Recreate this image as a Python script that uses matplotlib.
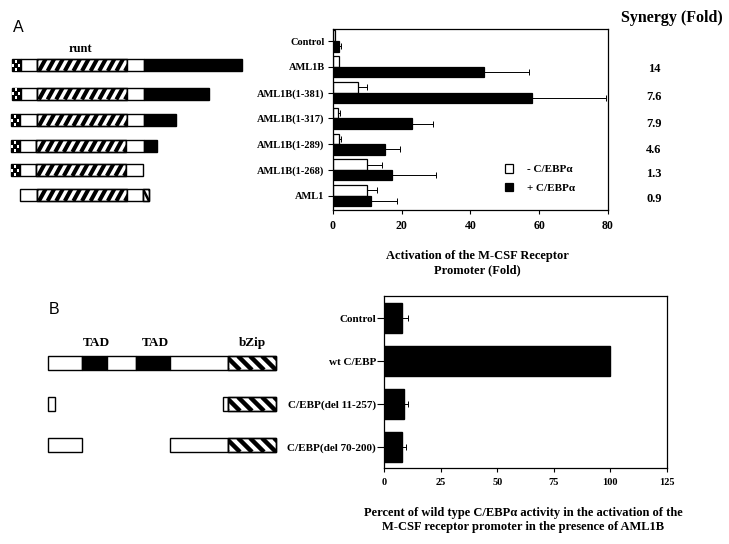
import numpy as np
import matplotlib
matplotlib.use("Agg")
import matplotlib.pyplot as plt
from matplotlib.patches import Rectangle

plt.rcParams["font.family"] = ["Liberation Serif", "DejaVu Serif"]
plt.rcParams["font.weight"] = "bold"

# ---- data: panel A ----
constructs = ["Control", "AML1B", "AML1B(1-381)", "AML1B(1-317)",
              "AML1B(1-289)", "AML1B(1-268)", "AML1"]
minus_cebp = [0.5, 1.6, 7.3, 1.4, 1.7, 9.8, 10.0]
minus_err = [0.0, 0.0, 2.6, 0.7, 0.6, 4.4, 2.8]
plus_cebp = [1.8, 44.0, 58.0, 23.0, 15.1, 17.1, 11.1]
plus_err = [0.6, 13.0, 21.3, 6.0, 4.4, 12.9, 7.6]
synergy = ["14", "7.6", "7.9", "4.6", "1.3", "0.9"]
a_xticks = [0, 20, 40, 60, 80]

# ---- data: panel B ----
cebp_constructs = ["Control", "wt C/EBP", "C/EBP(del 11-257)", "C/EBP(del 70-200)"]
pct_wt = [8.1, 100.0, 9.0, 8.1]
pct_err = [2.7, 0.0, 1.8, 1.6]
b_xticks = [0, 25, 50, 75, 100, 125]

# domain maps (x in figure pixels), one list of (start, end, kind) per row
aml_rows = [
    [(12, 21, "check"), (21, 37, "open"), (37, 127, "runt"), (127, 144, "open"), (144, 242, "solid")],
    [(12, 21, "check"), (21, 37, "open"), (37, 127, "runt"), (127, 144, "open"), (144, 209, "solid")],
    [(11, 20, "check"), (20, 37, "open"), (37, 127, "runt"), (127, 144, "open"), (144, 176, "solid")],
    [(11, 20, "check"), (20, 36, "open"), (36, 126, "runt"), (126, 144, "open"), (144, 157, "solid")],
    [(11, 20, "check"), (20, 36, "open"), (36, 126, "runt"), (126, 143, "open")],
    [(20, 37, "open"), (37, 127, "runt"), (127, 143, "open"), (143, 149, "back")],
]
aml_row_y = [65, 93.5, 120, 146, 170, 195]
cebp_rows = [
    [(48, 82, "open"), (82, 107, "solid"), (107, 136, "open"), (136, 170, "solid"),
     (170, 228, "open"), (228, 276, "bzip")],
    [(48, 55, "open"), (223, 228, "open"), (228, 276, "bzip")],
    [(48, 82, "open"), (170, 228, "open"), (228, 276, "bzip")],
]
cebp_row_y = [363, 404, 445]

W, H = 729, 544
fig = plt.figure(figsize=(W / 100, H / 100), dpi=100)

# overlay axes in pixel coordinates for the schematic drawings and free text
ov = fig.add_axes([0, 0, 1, 1])
ov.set_xlim(0, W)
ov.set_ylim(H, 0)
ov.axis("off")


def striped(x0, x1, yc, h, spacing, slant, lw, back=False):
    rect = Rectangle((x0, yc - h / 2), x1 - x0, h, fc="white", ec="black", lw=1)
    ov.add_patch(rect)
    dx = slant * h
    for s in np.arange(x0 - dx - spacing, x1 + spacing, spacing):
        if back:
            xs, ys = [s, s + dx], [yc - h / 2, yc + h / 2]
        else:
            xs, ys = [s, s + dx], [yc + h / 2, yc - h / 2]
        ln, = ov.plot(xs, ys, color="black", lw=lw, solid_capstyle="butt")
        ln.set_clip_path(rect)
    ov.add_patch(Rectangle((x0, yc - h / 2), x1 - x0, h, fc="none", ec="black", lw=1))


def draw_segment(x0, x1, yc, h, kind):
    if kind == "open":
        ov.add_patch(Rectangle((x0, yc - h / 2), x1 - x0, h, fc="white", ec="black", lw=1))
    elif kind == "solid":
        ov.add_patch(Rectangle((x0, yc - h / 2), x1 - x0, h, fc="black", ec="black", lw=1))
    elif kind == "runt":
        striped(x0, x1, yc, h, 8.6, 0.55, 2.9)
    elif kind == "back":
        striped(x0, x1, yc, h, 6, 0.5, 1.8, back=True)
    elif kind == "bzip":
        striped(x0, x1, yc, h, 12, 1.0, 3.2, back=True)
    elif kind == "check":
        ov.add_patch(Rectangle((x0, yc - h / 2), x1 - x0, h, fc="black", ec="black", lw=1))
        cw, ch = (x1 - x0) / 3, h / 3
        for i in range(3):
            for j in range(3):
                if (i + j) % 2 == 1:
                    ov.add_patch(Rectangle((x0 + i * cw + 0.5, yc - h / 2 + j * ch + 0.5),
                                           cw - 1.0, ch - 1.0, fc="white", ec="none"))


for segs, yc in zip(aml_rows, aml_row_y):
    for x0, x1, kind in segs:
        draw_segment(x0, x1, yc, 12, kind)
for segs, yc in zip(cebp_rows, cebp_row_y):
    for x0, x1, kind in segs:
        draw_segment(x0, x1, yc, 14, kind)

ov.text(18, 27, "A", family="Liberation Sans", weight="normal", fontsize=11.5, ha="center", va="center")
ov.text(54, 310, "B", family="Liberation Sans", weight="normal", fontsize=11.5, ha="center", va="center")
ov.text(80, 49, "runt", fontsize=9, ha="center", va="center")
ov.text(96, 343, "TAD", fontsize=9.5, ha="center", va="center")
ov.text(155, 343, "TAD", fontsize=9.5, ha="center", va="center")
ov.text(252, 343, "bZip", fontsize=9.5, ha="center", va="center")
ov.text(672, 18, "Synergy (Fold)", fontsize=11.5, ha="center", va="center")

# ---- panel A bar chart ----
axA = fig.add_axes([333 / W, 1 - 210 / H, 275 / W, 181 / H])
ypos = np.arange(len(constructs))
bh = 0.41
axA.barh(ypos - bh / 2, minus_cebp, height=bh, color="white", edgecolor="black", lw=0.9,
         xerr=[np.zeros(len(minus_err)), minus_err],
         error_kw=dict(ecolor="black", elinewidth=0.7, capsize=2, capthick=0.7),
         label="- C/EBP\u03b1")
axA.barh(ypos + bh / 2, plus_cebp, height=bh, color="black", edgecolor="black", lw=0.9,
         xerr=[np.zeros(len(plus_err)), plus_err],
         error_kw=dict(ecolor="black", elinewidth=0.7, capsize=2, capthick=0.7),
         label="+ C/EBP\u03b1")
axA.set_xlim(0, 80)
axA.set_ylim(6.556, -0.467)
axA.set_xticks(a_xticks)
axA.set_yticks(ypos)
axA.set_yticklabels(constructs)
axA.tick_params(axis="y", length=3.6, width=0.8, pad=2.4, labelsize=7.5)
axA.tick_params(axis="x", length=3, width=0.8, pad=4, labelsize=8.5)
for sp in axA.spines.values():
    sp.set_linewidth(0.9)
axA.legend(loc="upper left", bbox_to_anchor=(505 / W, 1 - 164 / H), bbox_transform=fig.transFigure,
           frameon=False, fontsize=8, handlelength=0.75, handleheight=0.85,
           handletextpad=1.2, labelspacing=0.75, borderpad=0, borderaxespad=0)

for val, yc in zip(synergy, aml_row_y):
    ov.text(654, yc + 4, val, fontsize=9, ha="center", va="center")

ov.text(477, 263, "Activation of the M-CSF Receptor\nPromoter (Fold)", fontsize=9,
        ha="center", va="center", linespacing=1.2)

# ---- panel B bar chart ----
axB = fig.add_axes([384 / W, 1 - 468 / H, 283 / W, 172 / H])
ypb = np.arange(len(cebp_constructs))
axB.barh(ypb, pct_wt, height=0.7, color="black", edgecolor="black",
         xerr=[np.zeros(len(pct_err)), pct_err],
         error_kw=dict(ecolor="black", elinewidth=0.7, capsize=2, capthick=0.7))
axB.set_xlim(0, 125)
axB.set_ylim(3.48, -0.52)
axB.set_xticks(b_xticks)
axB.set_yticks(ypb)
axB.set_yticklabels(cebp_constructs)
axB.tick_params(axis="y", length=4.8, width=0.8, pad=1, labelsize=8)
axB.tick_params(axis="x", length=3, width=0.8, pad=4, labelsize=7.5)
for sp in axB.spines.values():
    sp.set_linewidth(0.9)

ov.text(523, 520, "Percent of wild type C/EBP\u03b1 activity in the activation of the\n"
        "M-CSF receptor promoter in the presence of AML1B", fontsize=9,
        ha="center", va="center", linespacing=1.25)

fig.savefig("out.png", dpi=100)
